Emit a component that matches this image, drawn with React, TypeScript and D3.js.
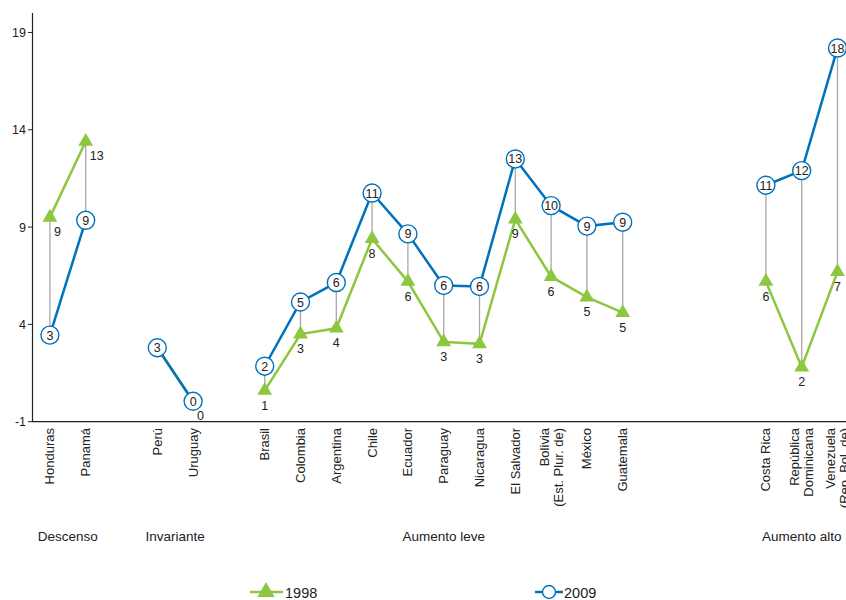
import React from "react";
import * as d3 from "d3";

const countries = [
  "Honduras", "Panamá",
  "Perú", "Uruguay",
  "Brasil", "Colombia", "Argentina", "Chile", "Ecuador", "Paraguay", "Nicaragua",
  "El Salvador", "Bolivia\n(Est. Plur. de)", "México", "Guatemala",
  "Costa Rica", "República\nDominicana", "Venezuela\n(Rep. Bol. de)",
];
const groupOf = [0, 0, 1, 1, 2, 2, 2, 2, 2, 2, 2, 2, 2, 2, 2, 3, 3, 3];
const groupNames = ["Descenso", "Invariante", "Aumento leve", "Aumento alto"];
const groupGapsAfter = [1, 1, 3, 0];

const values1998 = [9.5, 13.4, 2.8, 0.05, 0.6, 3.5, 3.8, 8.4, 6.2, 3.1, 3.0, 9.4, 6.45, 5.4, 4.6, 6.2, 1.8, 6.7];
const labels1998 = ["9", "13", "", "0", "1", "3", "4", "8", "6", "3", "3", "9", "6", "5", "5", "6", "2", "7"];
const values2009 = [3.45, 9.35, 2.8, 0.05, 1.85, 5.15, 6.15, 10.75, 8.65, 6.0, 5.95, 12.5, 10.1, 9.05, 9.25, 11.15, 11.9, 18.2];
const labels2009 = ["3", "9", "3", "0", "2", "5", "6", "11", "9", "6", "6", "13", "10", "9", "9", "11", "12", "18"];
const yTicks = [-1, 4, 9, 14, 19];
const legendLabels = ["1998", "2009"];

const GREEN = "#8DC63F";
const BLUE = "#0072BC";
const GRAY = "#A8A8A8";
const FONT = "Arial, 'Liberation Sans', Helvetica, sans-serif";

export default function App() {
  const W = 846, H = 600;
  const slots: string[] = [];
  countries.forEach((c, i) => {
    slots.push(c);
    const g = groupOf[i];
    if (i === countries.length - 1 || groupOf[i + 1] !== g) {
      for (let k = 0; k < groupGapsAfter[g]; k++) slots.push(`_gap_${g}_${k}`);
    }
  });
  const x = d3.scaleBand<string>().domain(slots).range([32, 32 + slots.length * 35.8]).padding(0);
  const cx = (c: string) => (x(c) as number) + x.bandwidth() / 2;
  const y = d3.scaleLinear().domain([-1, 20]).range([421.7, 13]);

  const tri = d3.symbol().type(d3.symbolTriangle).size(95)() as string;
  const triLegend = d3.symbol().type(d3.symbolTriangle).size(130)() as string;

  const groups = groupNames.map((_, g) => countries.map((c, i) => i).filter((i) => groupOf[i] === g));
  const line98 = d3.line<number>().x((i) => cx(countries[i])).y((i) => y(values1998[i]));
  const path98 = groups.map((idx) => line98(idx) as string);
  const line09 = d3.line<number>().x((i) => cx(countries[i])).y((i) => y(values2009[i]));
  const path09 = groups.map((idx) => line09(idx) as string);

  return (
    <svg width={W} height={H} style={{ position: "absolute", left: 0, top: 0, background: "#fff" }} fontFamily={FONT}>
      <line x1={32.5} x2={32.5} y1={13} y2={422} stroke="#222" strokeWidth={1.2} />
      <line x1={32} x2={W} y1={421.7} y2={421.7} stroke="#222" strokeWidth={1.2} />
      {yTicks.map((t) => (
        <g key={t}>
          <line x1={28} x2={32.5} y1={y(t)} y2={y(t)} stroke="#222" strokeWidth={1} />
          <text x={26} y={y(t) + 4.5} textAnchor="end" fontSize={12.5} fill="#222">{t}</text>
        </g>
      ))}
      {countries.map((c, i) => (
        <line key={"c" + i} x1={cx(c)} x2={cx(c)} y1={y(values1998[i])} y2={y(values2009[i])} stroke={GRAY} strokeWidth={1.3} />
      ))}
      {path98.map((d, k) => (
        <path key={"g" + k} d={d} fill="none" stroke={GREEN} strokeWidth={2.5} />
      ))}
      {path09.map((d, k) => (
        <path key={"b" + k} d={d} fill="none" stroke={BLUE} strokeWidth={2.5} />
      ))}
      {countries.map((c, i) =>
        values1998[i] === values2009[i] ? null : (
          <path key={"t" + i} d={tri} transform={`translate(${cx(c)},${y(values1998[i])})`} fill={GREEN} />
        )
      )}
      {countries.map((c, i) => {
        const right = values1998[i] >= values2009[i];
        const px = cx(c), py = y(values1998[i]);
        return (
          <text key={"l98" + i} x={right ? px + 4 : px} y={py + 19} textAnchor={right ? "start" : "middle"} fontSize={12.5} fill="#222">
            {labels1998[i]}
          </text>
        );
      })}
      {countries.map((c, i) => (
        <g key={"o" + i} transform={`translate(${cx(c)},${y(values2009[i])})`}>
          <circle r={9} fill="#fff" stroke={BLUE} strokeWidth={1.4} />
          <text y={4.5} textAnchor="middle" fontSize={12.5} fill="#222">{labels2009[i]}</text>
        </g>
      ))}
      {countries.map((c, i) => {
        const lines = c.split("\n");
        return (
          <text key={"x" + i} transform={`translate(${cx(c)},428) rotate(-90)`} textAnchor="end" fontSize={13} fill="#222">
            {lines.map((ln, j) => (
              <tspan key={j} x={0} y={(j - (lines.length - 1) / 2) * 14} dy="0.35em">{ln}</tspan>
            ))}
          </text>
        );
      })}
      {groups.map((idx, g) => {
        const mid = (cx(countries[idx[0]]) + cx(countries[idx[idx.length - 1]])) / 2;
        return (
          <text key={"grp" + g} x={mid} y={541} textAnchor="middle" fontSize={13.5} fill="#222">{groupNames[g]}</text>
        );
      })}
      <g>
        <line x1={250} x2={283} y1={592} y2={592} stroke={GREEN} strokeWidth={2.5} />
        <path d={triLegend} transform="translate(266,592)" fill={GREEN} />
        <text x={285} y={597.5} fontSize={14.5} fill="#222">{legendLabels[0]}</text>
        <line x1={535} x2={563} y1={592} y2={592} stroke={BLUE} strokeWidth={2.5} />
        <circle cx={549} cy={592} r={6.5} fill="#fff" stroke={BLUE} strokeWidth={1.4} />
        <text x={564} y={597.5} fontSize={14.5} fill="#222">{legendLabels[1]}</text>
      </g>
    </svg>
  );
}
